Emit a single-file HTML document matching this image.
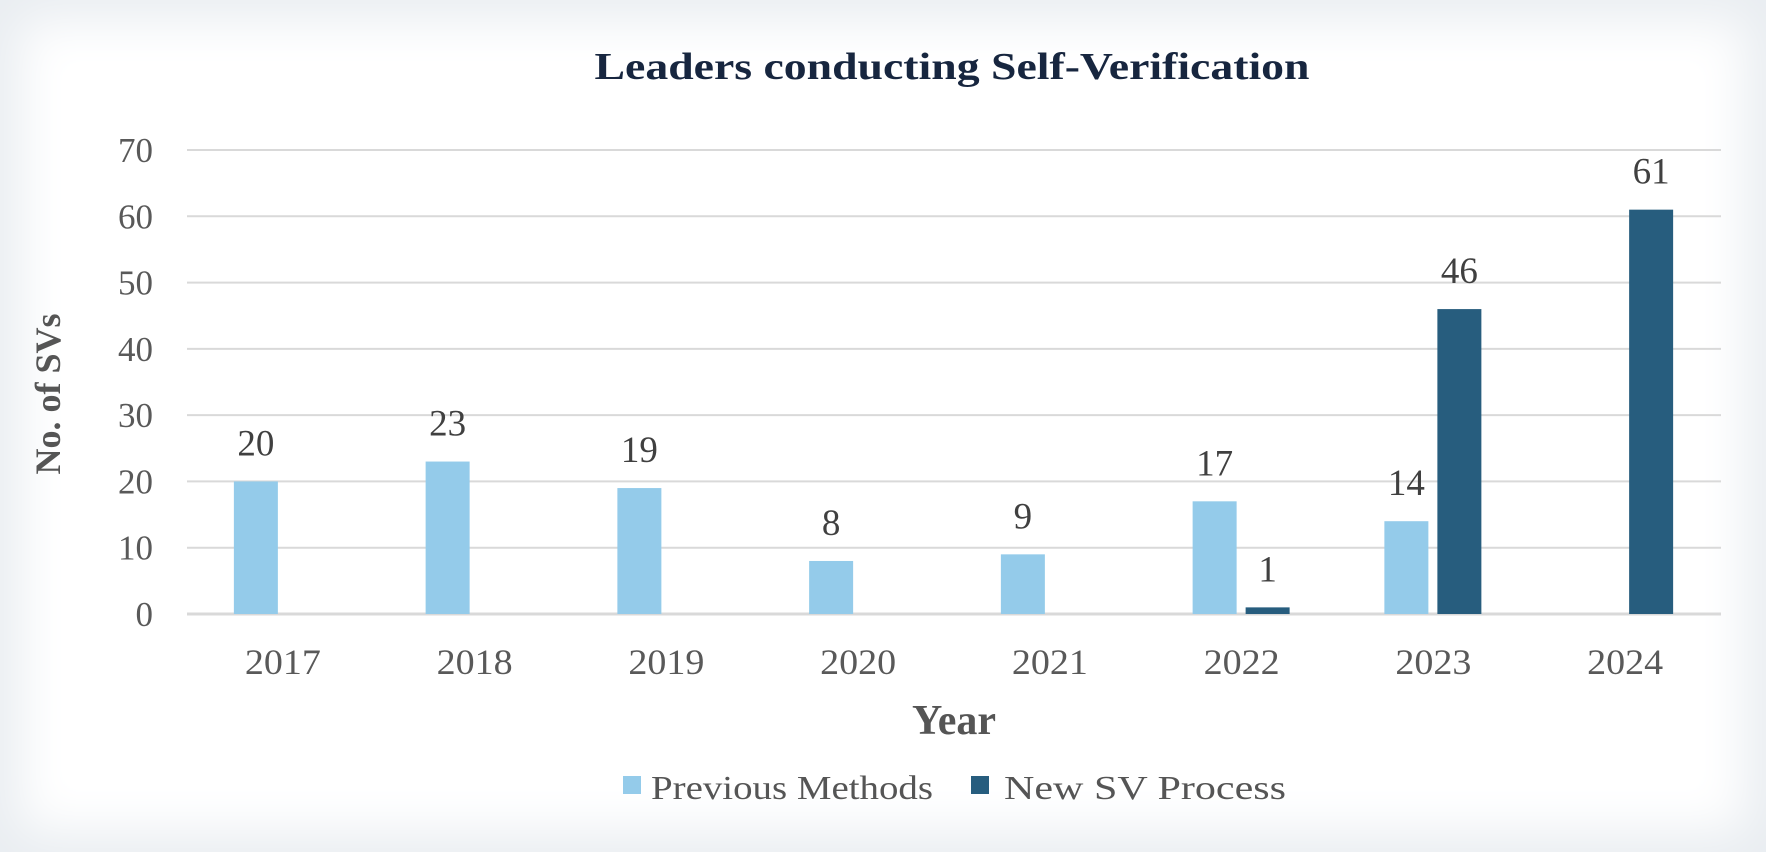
<!DOCTYPE html>
<html><head><meta charset="utf-8">
<style>
html,body{margin:0;padding:0;background:#fff;}
#wrap{position:relative;width:1766px;height:852px;overflow:hidden;background:#fff;box-shadow:inset 0 0 50px 20px #e9edf1;}
svg{position:absolute;left:0;top:0;}
text{font-family:"Liberation Serif",serif;}
</style></head><body>
<div id="wrap">
<svg id="chart" width="1766" height="852">
  <text x="952" y="79" text-anchor="middle" font-size="38" font-weight="bold" fill="#17263f" textLength="715" lengthAdjust="spacingAndGlyphs">Leaders conducting Self-Verification</text>
  <text transform="translate(60,394) rotate(-90)" text-anchor="middle" font-size="36" font-weight="bold" fill="#555">No. of SVs</text>
  <text x="954" y="734" text-anchor="middle" font-size="42" font-weight="bold" fill="#555">Year</text>
  <rect x="623" y="776" width="18" height="18" fill="#94cbea"/>
  <text x="651" y="799" font-size="34" fill="#555" textLength="282" lengthAdjust="spacingAndGlyphs">Previous Methods</text>
  <rect x="971" y="776" width="18" height="18" fill="#275d7e"/>
  <text x="1004" y="799" font-size="34" fill="#555" textLength="282" lengthAdjust="spacingAndGlyphs">New SV Process</text>
  <g id="grid"></g><g id="bars"></g>
</svg>
</div>
<script>
const categories=["2017","2018","2019","2020","2021","2022","2023","2024"];
const previousMethods=[20,23,19,8,9,17,14,null];
const newSVProcess=[null,null,null,null,null,1,46,61];
const yTicks=[0,10,20,30,40,50,60,70];
const NS="http://www.w3.org/2000/svg";
const x0=187,x1=1721,y0=614,yTop=150,yMax=70;
const bw=(x1-x0)/categories.length;
function y(v){return y0-(v/yMax)*(y0-yTop);}
function cx(i){return x0+bw*(i+0.5);}
const grid=document.getElementById('grid'),bars=document.getElementById('bars');
function mk(tag,attrs,parent,txt){const e=document.createElementNS(NS,tag);for(const k in attrs)e.setAttribute(k,attrs[k]);if(txt!=null)e.textContent=txt;parent.appendChild(e);return e;}
yTicks.forEach(t=>{
  const l=mk('line',{x1:x0,x2:x1,y1:y(t),y2:y(t),stroke:'#d9d9d9','stroke-width':t===0?3:2},grid);
  
  
  const tx=mk('text',{x:153,y:y(t)+12,'text-anchor':'end','font-size':35,fill:'#595959'},grid,String(t));
  
  
});
categories.forEach((c,i)=>{
  const tx=mk('text',{x:cx(i),y:674,'text-anchor':'middle','font-size':36,fill:'#595959',textLength:76,lengthAdjust:'spacingAndGlyphs'},grid,c);
  
  
  const series=[[previousMethods[i],-49,'#94cbea','previous'],[newSVProcess[i],4,'#275d7e','new']];
  series.forEach(([v,off,col,nm])=>{
    if(v==null)return;
    const r=mk('rect',{x:cx(i)+off,y:y(v),width:44,height:y0-y(v),fill:col},bars);
    
    
    const lb=mk('text',{x:cx(i)+off+22,y:y(v)-26,'text-anchor':'middle','font-size':37,fill:'#404040'},bars,String(v));
    
    
  });
});
</script>
</body></html>
